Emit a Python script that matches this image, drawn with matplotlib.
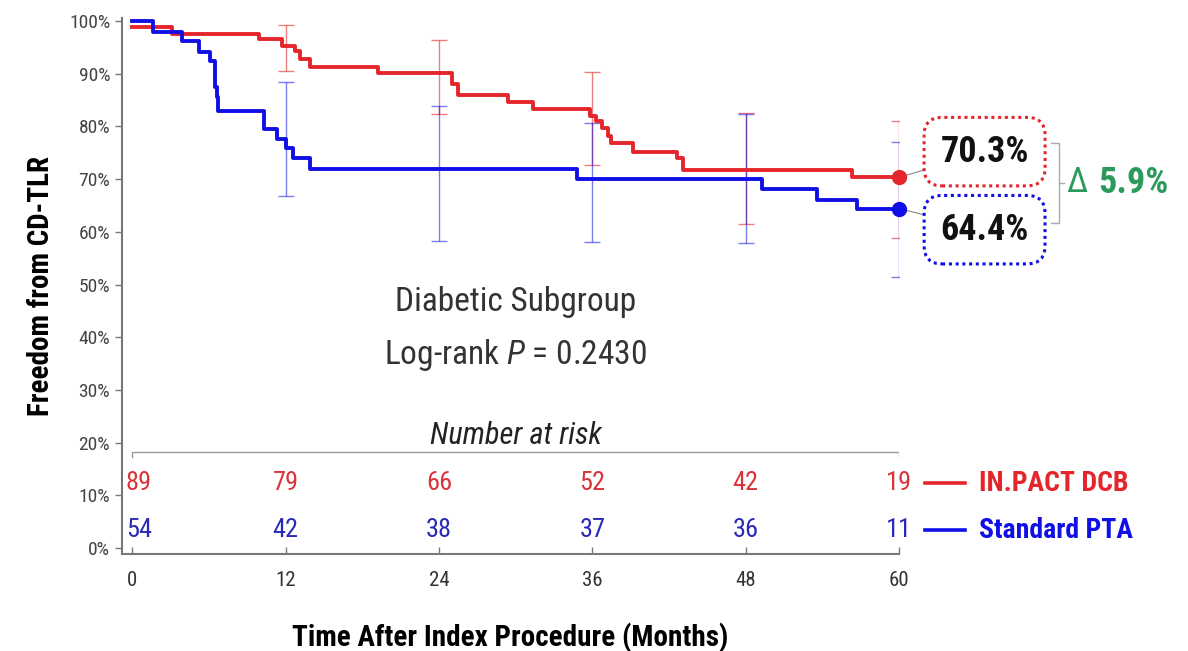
import matplotlib
matplotlib.use('Agg')
import matplotlib.pyplot as plt

# Kaplan-Meier step data (months, freedom from CD-TLR %)
dcb_t = [0, 3.1, 9.9, 11.7, 12.7, 13.1, 13.9, 19.2, 25.0, 25.5, 29.4, 31.4,
         35.8, 36.3, 36.8, 37.2, 37.5, 39.2, 42.6, 43.1, 56.3, 60]
dcb_s = [98.8, 97.6, 96.6, 95.3, 94.3, 92.8, 91.2, 90.2, 88.1, 86.0, 84.6, 83.2,
         82.0, 81.0, 79.7, 78.2, 76.9, 75.2, 73.9, 71.8, 70.3, 70.3]
pta_t = [0, 1.6, 3.9, 5.2, 6.1, 6.5, 6.6, 6.75, 10.3, 11.3, 12.0, 12.6, 13.9,
         34.8, 49.3, 53.6, 56.7, 60]
pta_s = [100, 97.8, 96.2, 94.1, 92.4, 87.4, 85.5, 83.0, 79.5, 77.6, 75.8, 73.9, 72.0,
         70.1, 68.2, 66.1, 64.4, 64.4]

# confidence intervals at yearly timepoints
ci_months = [12, 24, 36, 48, 60]
dcb_hi = [99.3, 96.3, 90.3, 82.5, 81.1]
dcb_lo = [90.5, 82.4, 72.7, 61.4, 58.9]
pta_hi = [88.5, 83.8, 80.7, 82.3, 77.1]
pta_lo = [66.7, 58.3, 58.0, 57.8, 51.5]

# number at risk
risk_months = [0, 12, 24, 36, 48, 60]
dcb_risk = [89, 79, 66, 52, 42, 19]
pta_risk = [54, 42, 38, 37, 36, 11]

dcb_final = 70.3
pta_final = 64.4

RED = '#e4262c'
BLUE = '#1010e6'
GREEN = '#2b9a5c'
FONT = ['Roboto Condensed', 'DejaVu Sans']

plt.rcParams['font.family'] = FONT
plt.rcParams['mathtext.fontset'] = 'custom'
plt.rcParams['mathtext.it'] = 'Roboto Condensed:italic'
plt.rcParams['mathtext.rm'] = 'Roboto Condensed'

fig = plt.figure(figsize=(11.88, 6.51), dpi=100)
ax = fig.add_axes([0.1027, 0.149, 0.654, 0.823])

# curves
ax.step(dcb_t, dcb_s, where='post', color=RED, lw=2.8, zorder=3)
ax.step(pta_t, pta_s, where='post', color=BLUE, lw=2.8, zorder=3)

# error bars
ax.vlines(ci_months, dcb_lo, dcb_hi, color=RED, lw=1.0, alpha=0.6, zorder=2)
ax.plot(ci_months + ci_months, dcb_lo + dcb_hi, ls='none', marker='_', ms=11,
        mew=1.0, color=RED, alpha=0.6, zorder=2)
ax.vlines(ci_months, pta_lo, pta_hi, color=BLUE, lw=1.0, alpha=0.55, zorder=2)
ax.plot(ci_months + ci_months, pta_lo + pta_hi, ls='none', marker='_', ms=11,
        mew=1.0, color=BLUE, alpha=0.55, zorder=2)

# final dots
ax.plot([60], [dcb_final], 'o', color=RED, ms=10, clip_on=False, zorder=5)
ax.plot([60], [pta_final], 'o', color=BLUE, ms=10, clip_on=False, zorder=5)

# value boxes
for val, col, ty in [(dcb_final, RED, 75.2), (pta_final, BLUE, 60.4)]:
    ax.annotate('%.1f%%' % val, xy=(60, val), xytext=(66.7, ty),
                ha='center', va='center', fontsize=26, fontweight='bold',
                color='#111111', annotation_clip=False,
                bbox=dict(boxstyle='round,pad=0.45,rounding_size=0.5', fc='white',
                          ec=col, lw=2.2, ls=(0, (1, 1.2))),
                arrowprops=dict(arrowstyle='-', color='#888888', lw=0.8,
                                shrinkA=0, shrinkB=0))

# bracket + delta
br = dict(color='#aaaaaa', lw=1.0, clip_on=False)
ax.plot([71.9, 72.5, 72.5, 71.9], [76.9, 76.9, 61.7, 61.7], **br)
ax.plot([72.5, 72.9], [69.3, 69.3], **br)
ax.text(73.1, 69.3, '\u0394', color=GREEN, fontsize=25, ha='left', va='center',
        fontweight='normal', clip_on=False)
ax.text(75.6, 69.3, '%.1f%%' % (dcb_final - pta_final), color=GREEN, fontsize=26,
        fontweight='bold', ha='left', va='center', clip_on=False)

# subgroup text
ax.text(30, 46.6, 'Diabetic Subgroup', ha='center', va='center', fontsize=24,
        color='#333333')
ax.text(30, 36.6, 'Log-rank $P$ = 0.2430', ha='center', va='center', fontsize=24,
        color='#333333')

# number at risk
ax.text(30, 21.4, 'Number at risk', ha='center', va='center', fontsize=22,
        style='italic', color='#222222')
ax.plot([0, 0, 60, 60], [17.3, 18.2, 18.2, 17.3], color='#999999', lw=1.0)
for i, m in enumerate(risk_months):
    ha = 'left' if i == 0 else 'center'
    xo = -0.5 if i == 0 else 0
    ax.text(m + xo, 12.3, str(dcb_risk[i]), ha=ha, va='center', fontsize=19,
            color='#d8343a', clip_on=False)
    ax.text(m + xo, 3.4, str(pta_risk[i]), ha=ha, va='center', fontsize=19,
            color='#2a2ab8', clip_on=False)

# legend at the side
ax.plot([62.0, 65.2], [12.3, 12.3], color=RED, lw=2.6, clip_on=False)
ax.plot([62.0, 65.2], [3.4, 3.4], color=BLUE, lw=2.6, clip_on=False)
ax.text(66.3, 12.3, 'IN.PACT DCB', color=RED, fontsize=20, fontweight='bold',
        ha='left', va='center', clip_on=False)
ax.text(66.3, 3.4, 'Standard PTA', color=BLUE, fontsize=20, fontweight='bold',
        ha='left', va='center', clip_on=False)

# axes
ax.set_xlim(-0.8, 60)
ax.set_ylim(-1.1, 100.5)
ax.set_xticks(risk_months)
ax.set_yticks(range(0, 101, 10))
ax.set_yticklabels(['%d%%' % v for v in range(0, 101, 10)])
ax.tick_params(axis='y', labelsize=14, labelcolor='#444444', color='#777777',
               length=5, width=1)
ax.tick_params(axis='x', labelsize=15, labelcolor='#333333', color='#777777',
               direction='in', length=5, width=1, pad=12)
for s in ['top', 'right']:
    ax.spines[s].set_visible(False)
for s in ['left', 'bottom']:
    ax.spines[s].set_color('#777777')
    ax.spines[s].set_linewidth(1.5)

ax.set_ylabel('Freedom from CD-TLR', fontsize=21, fontweight='bold', labelpad=10)
ax.set_xlabel('Time After Index Procedure (Months)', fontsize=21,
              fontweight='bold', labelpad=24)

fig.savefig('out.png', dpi=100)
